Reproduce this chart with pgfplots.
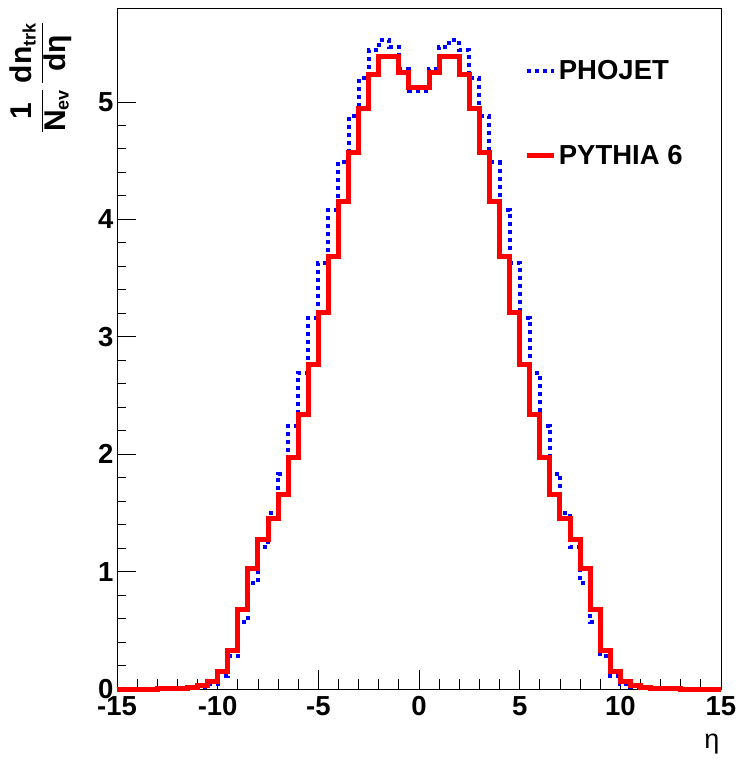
\documentclass[border=0pt]{standalone}
\usepackage{fontspec}
\setmainfont{Liberation Sans}
\usepackage{pgfplots}
\pgfplotsset{compat=1.18}
\usepackage{pgfplotstable}

\pgfplotstableread{
x y
-15 0
-14.5 0
-14 0
-13.5 0
-13 0.001
-12.5 0.002
-12 0.004
-11.5 0.008
-11 0.018
-10.5 0.045
-10 0.11
-9.5 0.28
-9 0.57
-8.5 0.90
-8 1.21
-7.5 1.50
-7 1.835
-6.5 2.24
-6 2.69
-5.5 3.16
-5 3.63
-4.5 4.08
-4 4.49
-3.5 4.88
-3 5.20
-2.5 5.44
-2 5.53
-1.5 5.47
-1 5.28
-0.5 5.09
0 5.09
0.5 5.28
1 5.47
1.5 5.53
2 5.44
2.5 5.20
3 4.88
3.5 4.49
4 4.08
4.5 3.63
5 3.16
5.5 2.69
6 2.24
6.5 1.835
7 1.50
7.5 1.21
8 0.90
8.5 0.57
9 0.28
9.5 0.11
10 0.045
10.5 0.018
11 0.008
11.5 0.004
12 0.002
12.5 0.001
13 0
13.5 0
14 0
14.5 0
15 0
}\phojet

\pgfplotstableread{
x y
-15 0
-14.5 0
-14 0
-13.5 0
-13 0.001
-12.5 0.002
-12 0.006
-11.5 0.012
-11 0.026
-10.5 0.062
-10 0.145
-9.5 0.33
-9 0.675
-8.5 1.03
-8 1.27
-7.5 1.45
-7 1.66
-6.5 1.97
-6 2.34
-5.5 2.76
-5 3.21
-4.5 3.68
-4 4.15
-3.5 4.57
-3 4.94
-2.5 5.23
-2 5.39
-1.5 5.39
-1 5.25
-0.5 5.12
0 5.12
0.5 5.25
1 5.39
1.5 5.39
2 5.23
2.5 4.94
3 4.57
3.5 4.15
4 3.68
4.5 3.21
5 2.76
5.5 2.34
6 1.97
6.5 1.66
7 1.45
7.5 1.27
8 1.03
8.5 0.675
9 0.33
9.5 0.145
10 0.062
10.5 0.026
11 0.012
11.5 0.006
12 0.002
12.5 0.001
13 0
13.5 0
14 0
14.5 0
15 0
}\pythia

\begin{document}
\begin{tikzpicture}
\begin{axis}[
  scale only axis, width=604pt, height=681pt,
  xmin=-15, xmax=15, ymin=0, ymax=5.8,
  clip=false,
  xtick={-15,-10,-5,0,5,10,15},
  xticklabels={-15,-10,-5,0,5,10,15},
  ytick={0,1,2,3,4,5},
  yticklabels={0,1,2,3,4,5},
  minor x tick num=4, minor y tick num=4,
  tick align=inside, tick pos=left,
  major tick length=19pt, minor tick length=9.5pt,
  tick style={black, line width=0.8pt},
  axis line style={line width=0.8pt},
  ticklabel style={font=\fontsize{27.5}{32}\selectfont\bfseries},
  xticklabel style={yshift=-4pt},
  yticklabel style={xshift=0pt},
  xlabel={η},
  xlabel style={at={(rel axis cs:0.985,-0.081)}, anchor=center, font=\fontsize{27}{32}\selectfont},
  ylabel={$\displaystyle\frac{\mbox{1}}{\mbox{N}_{\mbox{\fontsize{18}{20}\selectfont\bfseries ev}}}\,\frac{\mbox{dn}_{\mbox{\fontsize{18}{20}\selectfont\bfseries trk}}}{\mbox{dη}}$},
  ylabel style={at={(rel axis cs:-0.127,0.898)}, anchor=center, font=\fontsize{30}{34}\selectfont\bfseries},
  legend style={draw=none, fill=none, at={(rel axis cs:0.675,0.9266)}, anchor=north west,
    font=\fontsize{27.5}{33}\selectfont\bfseries, row sep=60pt, inner sep=0pt,
    nodes={inner sep=2pt}},
  legend cell align=left,
  legend image code/.code={\draw[#1] (0pt,0pt) -- (27pt,0pt);},
]
\addplot[blue, line width=4pt, dash pattern=on 4pt off 4pt, const plot] table[x=x,y=y] {\phojet};
\addlegendentry{PHOJET}
\addplot[red, line width=5pt, line join=miter, const plot] table[x=x,y=y] {\pythia};
\addlegendentry{PYTHIA 6}
\end{axis}
\path (current axis.south west) ++(-117pt,-71pt);
\path (current axis.north east) ++(22pt,8pt);
\end{tikzpicture}
\end{document}
